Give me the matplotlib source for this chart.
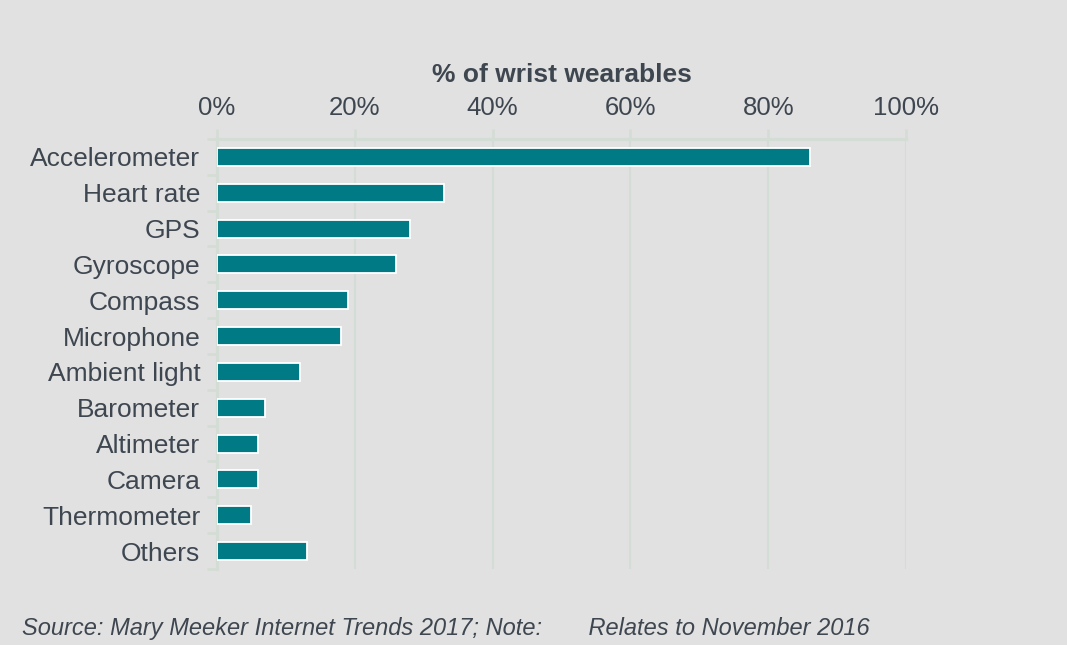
import matplotlib
matplotlib.use("Agg")
import matplotlib.pyplot as plt
import numpy as np

categories = ["Accelerometer", "Heart rate", "GPS", "Gyroscope", "Compass",
              "Microphone", "Ambient light", "Barometer", "Altimeter",
              "Camera", "Thermometer", "Others"]
values = [86, 33, 28, 26, 19, 18, 12, 7, 6, 6, 5, 13]
xticks = [0, 20, 40, 60, 80, 100]
xtick_labels = ["0%", "20%", "40%", "60%", "80%", "100%"]

BG = "#e1e1e1"
BAR = "#007a84"
GRID = "#d3ddd5"
TXT = "#3e4650"

plt.rcParams['font.family'] = ['Liberation Sans', 'DejaVu Sans']

fig = plt.figure(figsize=(10.67, 6.45), dpi=100, facecolor=BG)
ax = fig.add_axes([217/1067, 1-569/645, (906-217)/1067, (569-139)/645])
ax.set_facecolor(BG)

y = np.arange(len(categories))
ax.barh(y, values, height=0.5, color=BAR, edgecolor="white", linewidth=1.3, zorder=3)

ax.set_xlim(0, 100)
ax.set_ylim(len(categories) - 0.5, -0.5)

ax.xaxis.tick_top()
ax.xaxis.set_label_position("top")
ax.set_xticks(xticks)
ax.set_xticklabels(xtick_labels, fontsize=18.5, color=TXT)
ax.tick_params(axis="x", length=7, width=1.8, color=GRID, pad=7)
ax.grid(axis="x", color=GRID, linewidth=1.5, zorder=0)

ax.set_yticks(y)
ax.set_yticklabels(categories, fontsize=19, color=TXT)
ax.set_yticks(np.arange(-0.5, len(categories) + 0.5, 1), minor=True)
ax.tick_params(axis="y", which="major", length=0, pad=12)
ax.tick_params(axis="y", which="minor", length=7, width=1.8, color=GRID)

ax.set_xlabel("% of wrist wearables", fontsize=19, fontweight="bold", color=TXT, labelpad=10)

for s in ["right", "bottom"]:
    ax.spines[s].set_visible(False)
for s in ["top", "left"]:
    ax.spines[s].set_color(GRID)
    ax.spines[s].set_linewidth(2.2)

fig.text(22/1067, 1-628/645,
         "Source: Mary Meeker Internet Trends 2017; Note:       Relates to November 2016",
         fontsize=17, style="italic", color=TXT, va="center", ha="left")

fig.savefig("out.png", dpi=100, facecolor=BG)
